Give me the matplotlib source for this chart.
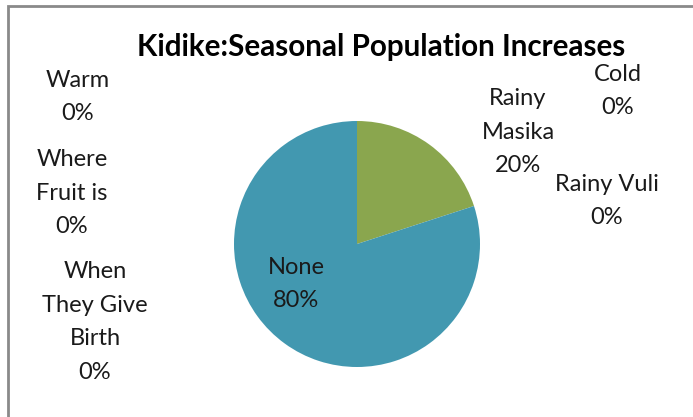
import matplotlib
matplotlib.use("Agg")
from matplotlib import pyplot as plt

# data
categories = ["Cold", "Rainy\nMasika", "Rainy Vuli", "None",
              "When\nThey Give\nBirth", "Where\nFruit is", "Warm"]
values = [0, 20, 0, 80, 0, 0, 0]
colors = ["#4F81BD", "#8AA64E", "#C0504D", "#4298B0",
          "#8064A2", "#F79646", "#4BACC6"]
title = "Kidike:Seasonal Population Increases"

# label anchor points (pixels from top-left)
label_pos = [(618, 91), (518, 132), (607, 201), (296, 284),
             (95, 322), (72, 193), (78, 97)]

W, H = 693, 417
plt.rcParams['font.family'] = ['Lato', 'DejaVu Sans']
fig = plt.figure(figsize=(W / 100, H / 100), dpi=100)
ax = fig.add_axes([0, 0, 1, 1])

ax.pie(values, colors=colors, startangle=90, counterclock=False,
       center=(357, H - 244), radius=123, frame=True,
       wedgeprops=dict(linewidth=0))
ax.set_xlim(0, W)
ax.set_ylim(0, H)
ax.set_aspect('auto')
ax.set_axis_off()

for name, v, (x, y) in zip(categories, values, label_pos):
    ax.text(x, H - y, f"{name}\n{v}%", ha='center', va='center',
            fontsize=17, color='#1a1a1a', linespacing=1.75)

ax.text(381, H - 47, title, ha='center', va='center',
        fontsize=21.3, fontweight='bold', color='black')

# chart border (top and left visible)
ax.plot([8, 8, W], [0, H - 5.5, H - 5.5], color='#8a8a8a', lw=2,
        solid_joinstyle='miter')

fig.savefig("out.png", dpi=100)
